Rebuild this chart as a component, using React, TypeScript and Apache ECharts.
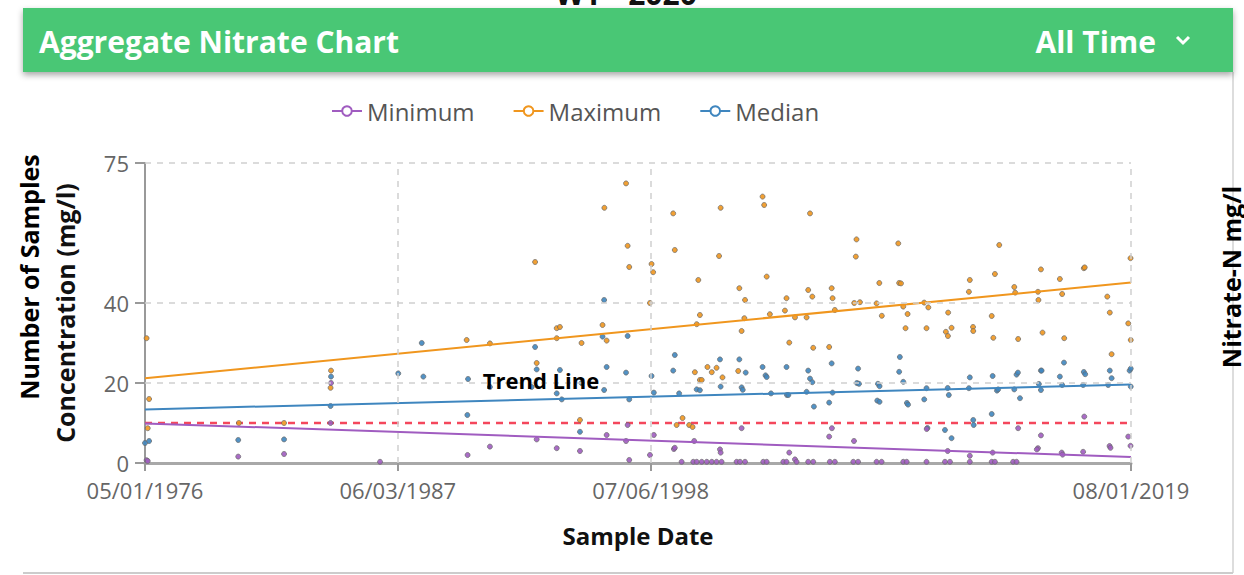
import React, { useEffect, useRef } from "react";
import * as echarts from "echarts";

// ---- data (decimal year, mg/l) ----
const xTickDates = ["1976-05-01", "1987-06-03", "1998-07-06", "2019-08-01"];
const yTicks = [0, 20, 40, 75];
const threshold = 10;
const trendMax = [21.2, 45.1];
const trendMed = [13.4, 19.6];
const trendMin = [9.9, 1.5];

const maxPts: number[][] = [
  [1976.4, 31.2], [1976.51, 16], [1976.45, 8.7], [1980.45, 10], [1982.43, 10], [1984.49, 23.1], [1984.47, 18.8],
  [1990.44, 30.75], [1991.46, 29.9], [1993.44, 50.25], [1993.51, 25], [1994.39, 33.7], [1994.53, 34], [1994.39, 31.2],
  [1995.41, 10.75], [1995.48, 30], [1996.4, 34.5], [1996.48, 63.8], [1996.58, 30.6], [1997.43, 69.9], [1997.5, 54.3],
  [1997.57, 49], [1998.48, 40], [1998.55, 49.75], [1998.62, 47.7], [1999.5, 62.4], [1999.57, 53.25], [2000.6, 45.75],
  [2000.67, 37], [2000.53, 34.7], [2001.58, 63.8], [2001.51, 51.75], [2003.42, 66.6], [2003.49, 64.5], [2003.6, 46.6],
  [2002.4, 43.7], [2002.65, 40.75], [2002.62, 36.2], [2002.5, 33], [2003.74, 37.2], [2004.47, 41.2], [2004.4, 38.1],
  [2004.59, 30.1], [2004.84, 36.4], [2005.35, 36.4], [2005.42, 43.25], [2005.6, 41.6], [2005.5, 62.4], [2005.64, 28.8],
  [2006.45, 43.7], [2006.49, 41.2], [2006.59, 38.25], [2006.34, 29], [2007.54, 55.9], [2007.51, 51.6], [2007.44, 40],
  [2007.69, 40.2], [2008.54, 45], [2008.42, 39.9], [2008.65, 36.8], [2009.37, 54.9], [2009.41, 45],
  [2000.45, 22.7], [2001.0, 24], [2001.19, 22.7], [2001.4, 23.8], [2001.66, 21.4], [2000.67, 20.75], [2000.75, 20.75],
  [2002.35, 23], [1999.91, 11.25], [2000.2, 9.5], [2000.35, 9], [1999.65, 9.5],
  [2009.49, 44.9], [2009.59, 39.1], [2009.78, 37.25], [2009.69, 33.7], [2010.61, 33.7], [2010.51, 40.1], [2010.69, 38.9],
  [2011.56, 37.6], [2011.46, 32.8], [2011.55, 31.75], [2011.71, 33.8], [2012.51, 45.75], [2012.47, 42.8], [2012.65, 34],
  [2012.66, 33], [2013.47, 36.75], [2013.61, 47.25], [2013.8, 54.5], [2013.54, 31.3], [2014.46, 44], [2014.5, 42.6],
  [2014.63, 31], [2015.63, 48.4], [2015.5, 42.8], [2015.52, 40.75], [2015.7, 32.6], [2016.46, 46], [2016.56, 42.25],
  [2016.65, 31.2], [2017.51, 48.7], [2017.55, 48.9], [2018.54, 41.6], [2018.65, 37.6], [2018.73, 27.2], [2019.56, 51.2],
  [2019.46, 34.9], [2019.57, 30.75],
];

const medPts: number[][] = [
  [1976.33, 5], [1976.51, 5.5], [1980.42, 5.75], [1982.43, 5.9], [1984.49, 21.6], [1984.47, 14.25], [1987.44, 22.4],
  [1988.47, 30], [1988.54, 21.6], [1990.5, 21], [1990.47, 12], [1991.46, 19], [1993.29, 19], [1993.44, 29],
  [1993.51, 23.4], [1994.53, 23.25], [1994.39, 17.4], [1994.61, 15.9], [1995.41, 7.8], [1995.48, 20], [1996.47, 40.75],
  [1996.58, 24], [1996.47, 18.25], [1997.43, 22.6], [1997.57, 15.9], [1997.5, 31.75], [1996.4, 31.6], [1998.55, 21.75],
  [1998.65, 17.6], [1999.57, 27], [1999.5, 23.1], [1999.76, 17.4], [2000.53, 18.4], [2000.67, 18.2], [2001.55, 25.9],
  [2001.58, 19.1], [2002.4, 25.9], [2002.68, 22.6], [2002.5, 18.9], [2002.55, 18.3], [2003.42, 24], [2003.55, 21.9],
  [2003.6, 21.5], [2003.79, 17.4], [2004.47, 24], [2004.49, 17], [2004.55, 17], [2005.42, 23.1], [2005.5, 21.1],
  [2005.6, 20.2], [2005.35, 17.8], [2005.67, 14.1], [2006.45, 24.9], [2006.49, 17.6], [2006.34, 15.1], [2007.61, 23.6],
  [2007.56, 20], [2007.65, 19.8], [2008.48, 19.8], [2008.55, 19.2], [2008.45, 15.6], [2008.55, 15.3], [2009.41, 22.8],
  [2009.44, 26.5], [2009.59, 20.3], [2009.75, 15], [2009.8, 14.6], [2010.61, 18.7], [2010.51, 15.9], [2011.54, 18.75],
  [2011.59, 17], [2012.51, 21.4], [2012.47, 18.7], [2013.51, 21.75], [2013.7, 18.1], [2013.75, 18.4], [2014.56, 22.1],
  [2014.62, 22.6], [2014.46, 18.4], [2014.71, 16.2], [2013.47, 12.25], [2012.66, 10.75], [2012.68, 9.5], [2015.63, 23.1],
  [2015.66, 23.1], [2015.54, 19.75], [2015.63, 18.25], [2016.64, 25.1], [2016.46, 21.6], [2016.56, 19.5], [2017.51, 22.75],
  [2017.57, 22.2], [2017.48, 19.5], [2018.65, 23.1], [2018.73, 21.2], [2018.58, 19.5], [2019.52, 23.1], [2019.57, 23.6],
  [2019.57, 19.1], [2011.42, 8.25], [2011.71, 6.2], [2010.65, 8.75],
];

const minPts: number[][] = [
  [1976.4, 0.7], [1976.45, 0.5], [1980.42, 1.6], [1982.43, 2.25], [1984.49, 20], [1984.47, 10], [1986.64, 0.3],
  [1990.48, 2], [1991.46, 4.1], [1993.51, 5.9], [1994.39, 3.7], [1995.41, 3], [1996.58, 7], [1997.43, 5.5],
  [1997.57, 0.75], [1997.5, 9.5], [1998.65, 7], [1998.48, 2], [1999.53, 3.5], [1999.57, 3.8], [2000.42, 5.5],
  [2001.55, 3.4], [2001.58, 2.6], [2002.5, 8.7], [2004.59, 2.6], [2004.84, 0.9], [2006.46, 8.7], [2006.34, 6.6],
  [2007.43, 5.5], [2014.63, 8.7], [2015.63, 6.9], [2015.5, 3.7], [2015.45, 3.4], [2016.54, 2.6], [2016.58, 2.1],
  [2017.53, 11.6], [2017.48, 2.8], [2018.64, 4.25], [2018.68, 3.8], [2019.46, 6.6], [2019.56, 4.3], [2011.54, 3],
  [2012.51, 1.8], [2013.51, 2.6], [2010.62, 8.5],
  [1999.87, 0.3], [2000.38, 0.3], [2000.53, 0.3], [2000.75, 0.3], [2000.97, 0.3], [2001.19, 0.3], [2001.4, 0.3],
  [2001.62, 0.3], [2002.28, 0.3], [2002.43, 0.3], [2002.65, 0.3], [2003.45, 0.3], [2003.6, 0.3], [2004.33, 0.3],
  [2004.47, 0.3], [2004.91, 0.3], [2005.42, 0.3], [2005.64, 0.3], [2006.37, 0.3], [2006.59, 0.3], [2007.4, 0.3],
  [2007.61, 0.3], [2008.42, 0.3], [2008.64, 0.3], [2009.59, 0.3], [2009.74, 0.3], [2010.61, 0.3], [2011.42, 0.3],
  [2011.64, 0.3], [2012.51, 0.3], [2013.47, 0.3], [2013.61, 0.3], [2014.41, 0.3], [2014.56, 0.3],
];

const toMs = (y: number) => {
  const yr = Math.floor(y);
  const s = Date.UTC(yr, 0, 1);
  const e = Date.UTC(yr + 1, 0, 1);
  return s + (y - yr) * (e - s);
};
const pad = (n: number) => String(n).padStart(2, "0");
const fmtDate = (v: number) => {
  const d = new Date(v);
  return `${pad(d.getUTCMonth() + 1)}/${pad(d.getUTCDate())}/${d.getUTCFullYear()}`;
};

const C_MIN = "#a05cc0";
const C_MAX = "#f0961e";
const C_MED = "#3f86bf";
const FONT = "'Open Sans', 'Noto Sans', sans-serif";

export default function App() {
  const ref = useRef<HTMLDivElement>(null);
  useEffect(() => {
    if (!ref.current) return;
    const chart = echarts.init(ref.current, undefined, { renderer: "svg" });
    const tickMs = xTickDates.map((d) => Date.parse(d));
    const xMin = tickMs[0];
    const xMax = tickMs[tickMs.length - 1];
    const pts = (arr: number[][]) => arr.map(([y, v]) => [Math.min(Math.max(toMs(y), xMin), xMax), v]);
    const scatter = (name: string, data: number[][], color: string) => ({
      name,
      type: "scatter",
      data: pts(data),
      symbolSize: 5,
      z: 3,
      itemStyle: { color, borderColor: "#6a6a6a", borderWidth: 0.8, opacity: 0.9 },
    });
    const trend = (name: string, v: number[], color: string) => ({
      name,
      type: "line",
      data: [[xMin, v[0]], [xMax, v[1]]],
      showSymbol: false,
      symbol: "emptyCircle",
      symbolSize: 8,
      z: 4,
      itemStyle: { color },
      lineStyle: { color, width: 2 },
    });
    chart.setOption({
      animation: false,
      backgroundColor: "#ffffff",
      textStyle: { fontFamily: FONT },
      legend: {
        data: ["Minimum", "Maximum", "Median"],
        left: 326,
        top: 94,
        itemWidth: 30,
        itemHeight: 12,
        itemGap: 38,
        textStyle: { fontSize: 24, color: "#555", fontFamily: FONT },
      },
      grid: { left: 145, right: 113, top: 163, bottom: 112, containLabel: false, outerBoundsMode: "none" },
      xAxis: {
        type: "value",
        min: xMin,
        max: xMax,
        name: "Sample Date",
        nameLocation: "middle",
        nameGap: 60,
        nameTextStyle: { fontSize: 24, fontWeight: "bold", color: "#111", fontFamily: FONT },
        axisLine: { show: true, lineStyle: { color: "#a8a8a8", width: 3 } },
        axisTick: { show: true, customValues: tickMs, length: 8, lineStyle: { color: "#999", width: 2 } },
        axisLabel: { customValues: tickMs, formatter: (v: number) => fmtDate(v), fontSize: 22, color: "#666", margin: 16 },
        splitLine: { show: false },
      },
      yAxis: {
        type: "value",
        min: 0,
        max: 75,
        name: "Concentration (mg/l)",
        nameLocation: "middle",
        nameRotate: 90,
        nameGap: 68,
        nameTextStyle: { fontSize: 25, fontWeight: "bold", color: "#111", fontFamily: FONT },
        axisLine: { show: true, lineStyle: { color: "#999", width: 2 } },
        axisTick: { show: true, customValues: yTicks, length: 10, lineStyle: { color: "#999", width: 2 } },
        axisLabel: { customValues: yTicks, fontSize: 22, color: "#666", margin: 16 },
        splitLine: { show: false },
      },
      series: [
        {
          name: "Threshold",
          type: "line",
          data: [[xMin, threshold], [xMax, threshold]],
          showSymbol: false,
          z: 2,
          lineStyle: { color: "#f4475c", width: 2.5, type: [7, 6] },
          markLine: {
            silent: true,
            symbol: ["none", "none"],
            label: { show: false },
            lineStyle: { color: "#cfcfcf", width: 1.5, type: [6, 6] },
            data: [
              { yAxis: 20 },
              { yAxis: 40 },
              { yAxis: 75 },
              { xAxis: tickMs[1] },
              { xAxis: tickMs[2] },
              { xAxis: xMax },
            ],
          },
        },
        scatter("Maximum samples", maxPts, C_MAX),
        scatter("Median samples", medPts, C_MED),
        scatter("Minimum samples", minPts, C_MIN),
        trend("Minimum", trendMin, C_MIN),
        trend("Maximum", trendMax, C_MAX),
        trend("Median", trendMed, C_MED),
      ],
      graphic: {
        elements: [
          {
            type: "text",
            x: 626,
            y: -7,
            style: { text: "WY - 2020", font: `bold 30px ${FONT}`, fill: "#111", align: "center", verticalAlign: "middle" },
          },
          {
            type: "rect",
            shape: { x: 23, y: 8, width: 1210, height: 64 },
            style: { fill: "#48c774", shadowBlur: 6, shadowOffsetY: 3, shadowColor: "rgba(0,0,0,0.35)" },
            z: 10,
          },
          {
            type: "text",
            x: 39,
            y: 41,
            z: 11,
            style: { text: "Aggregate Nitrate Chart", font: `bold 30px ${FONT}`, fill: "#ffffff", verticalAlign: "middle" },
          },
          {
            type: "text",
            x: 1156,
            y: 41,
            z: 11,
            style: { text: "All Time", font: `bold 30px ${FONT}`, fill: "#ffffff", align: "right", verticalAlign: "middle" },
          },
          {
            type: "polyline",
            z: 11,
            shape: { points: [[1177, 37], [1183, 43], [1189, 37]] },
            style: { stroke: "#ffffff", lineWidth: 3, fill: "none" },
          },
          {
            type: "line",
            shape: { x1: 1233, y1: 72, x2: 1233, y2: 573 },
            style: { stroke: "#dddddd", lineWidth: 2 },
          },
          {
            type: "line",
            shape: { x1: 23, y1: 573, x2: 1233, y2: 573 },
            style: { stroke: "#cccccc", lineWidth: 2 },
          },
          {
            type: "text",
            x: 29,
            y: 277,
            rotation: Math.PI / 2,
            style: { text: "Number of Samples", font: `bold 25px ${FONT}`, fill: "#000", align: "center", verticalAlign: "middle" },
          },
          {
            type: "text",
            x: 1231,
            y: 277,
            rotation: Math.PI / 2,
            style: { text: "Nitrate-N mg/l", font: `bold 25px ${FONT}`, fill: "#000", align: "center", verticalAlign: "middle" },
          },
          {
            type: "text",
            x: 541,
            y: 380,
            z: 12,
            style: { text: "Trend Line", font: `bold 22px ${FONT}`, fill: "#000", align: "center", verticalAlign: "middle" },
          },
        ],
      },
    });
    return () => chart.dispose();
  }, []);
  return <div ref={ref} style={{ position: "absolute", left: 0, top: 0, width: 1244, height: 575 }} />;
}
